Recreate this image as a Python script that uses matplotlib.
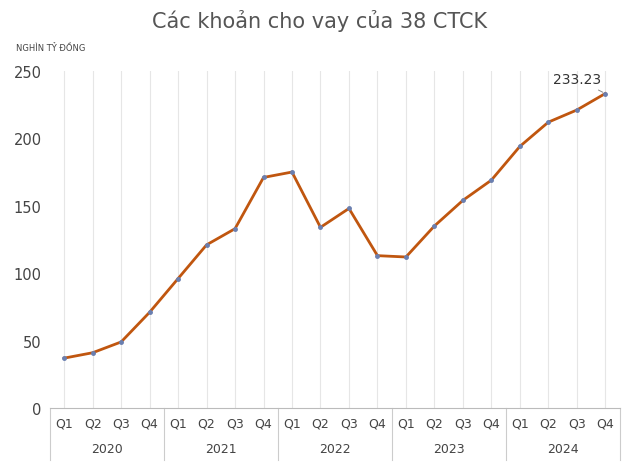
import matplotlib.pyplot as plt
import numpy as np

# data (nghìn tỷ đồng)
years = ['2020', '2021', '2022', '2023', '2024']
quarters = ['Q1', 'Q2', 'Q3', 'Q4']
values = [37, 41, 49, 71,
          96, 121, 133, 171,
          175, 134, 148, 113,
          112, 135, 154, 169,
          194, 212, 221, 233.23]

x = np.arange(len(values))
fig = plt.figure(figsize=(6.4, 4.64), dpi=100)
ax = fig.add_axes([0.078, 0.1185, 0.89, 0.7265])

for xi in x:
    ax.axvline(xi, color='#e6e6e6', lw=0.8, zorder=0)
ax.plot(x, values, color='#c0560f', lw=2, zorder=2)
ax.plot(x, values, 'o', color='#6a7fb0', ms=2.5, zorder=3)

ax.set_xlim(-0.5, len(values) - 0.5)
ax.set_ylim(0, 250)
ax.set_yticks([0, 50, 100, 150, 200, 250])
ax.tick_params(axis='y', length=0, labelsize=10.5, colors='#444444', pad=6)
ax.set_xticks([])
for s in ['top', 'right', 'left']:
    ax.spines[s].set_visible(False)
ax.spines['bottom'].set_color('#bbbbbb')

tr = ax.get_xaxis_transform()
for i in x:
    ax.text(i, -0.045, quarters[i % 4], transform=tr, ha='center', va='center',
            fontsize=9, color='#444444')
for k, yr in enumerate(years):
    ax.text(4 * k + 1.5, -0.12, yr, transform=tr, ha='center', va='center',
            fontsize=9, color='#444444')
for b in range(6):
    ax.plot([4 * b - 0.5] * 2, [0, -0.155], transform=tr, color='#cccccc',
            lw=0.8, clip_on=False)

ax.annotate(f'{values[-1]:.2f}', xy=(x[-1], values[-1]), xytext=(x[-1] - 1.0, 244),
            ha='center', va='center', fontsize=10, color='#333333',
            arrowprops=dict(arrowstyle='-', color='#888888', lw=0.7))

fig.text(0.5, 0.955, 'Các khoản cho vay của 38 CTCK', ha='center', va='center',
         fontsize=15, color='#555555')
fig.text(0.025, 0.895, 'NGHÌN TỶ ĐỒNG', ha='left', va='center', fontsize=6,
         color='#444444')

fig.savefig('out.png', dpi=100)
